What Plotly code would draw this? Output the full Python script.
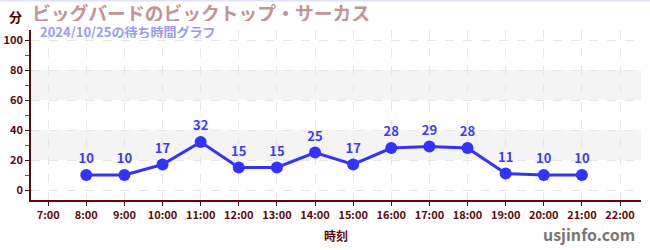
import plotly.graph_objects as go

hours = [8, 9, 10, 11, 12, 13, 14, 15, 16, 17, 18, 19, 20, 21]
waits = [10, 10, 17, 32, 15, 15, 25, 17, 28, 29, 28, 11, 10, 10]
tick_hours = list(range(7, 23))
tick_labels = [f"{h}:00" for h in tick_hours]
y_ticks = [0, 20, 40, 60, 80, 100]
bands = [(20, 40), (60, 80)]

title_text = "ビッグバードのビックトップ・サーカス"
subtitle_text = "2024/10/25の待ち時間グラフ"

FONT = "Noto Sans CJK JP"
AXC = "#5a0a0a"

fig = go.Figure()
fig.add_trace(go.Scatter(
    x=hours, y=waits, mode="lines+markers+text",
    text=[str(v) for v in waits], textposition="top center",
    textfont=dict(family=FONT, size=13, color="#3a3aff", weight="bold"),
    line=dict(color="#3333ff", width=3),
    marker=dict(color="#3333ff", size=12),
    cliponaxis=False, hoverinfo="skip", showlegend=False,
))

for a, b in bands:
    fig.add_shape(type="rect", xref="paper", yref="y", x0=0, x1=1, y0=a, y1=b,
                  fillcolor="#f4f4f4", line_width=0, layer="below")

fig.update_layout(
    width=650, height=250,
    margin=dict(l=31, r=9, t=30, b=50, autoexpand=False),
    paper_bgcolor="white", plot_bgcolor="white",
    font=dict(family=FONT, color=AXC),
    xaxis=dict(
        range=[6.55, 22.55], tickmode="array", tickvals=tick_hours, ticktext=tick_labels,
        showline=True, linecolor=AXC, linewidth=1.5, ticks="outside", ticklen=4,
        tickcolor=AXC, tickfont=dict(size=11, color=AXC, weight="bold"),
        showgrid=True, gridcolor="#e6e6e6", griddash="dash", gridwidth=1,
        zeroline=False, automargin=False,
        title=dict(text="時刻", font=dict(size=12, color=AXC, weight="bold"), standoff=12),
    ),
    yaxis=dict(
        range=[-6.67, 106.67], tickmode="array", tickvals=y_ticks,
        showline=True, linecolor=AXC, linewidth=1.5, ticks="outside", ticklen=4,
        tickcolor=AXC, tickfont=dict(size=11, color=AXC, weight="bold"),
        showgrid=True, gridcolor="#e6e6e6", griddash="dash", gridwidth=1,
        zeroline=False, automargin=False,
        minor=dict(tickvals=[10, 30, 50, 70, 90], ticks="outside", ticklen=4,
                   tickcolor="#dd2222", showgrid=False),
    ),
)

annots = [
    dict(text=title_text, x=31, y=13, size=18.8, color="#c49393", anchor="left", h=17),
    dict(text="分", x=15, y=16, size=13, color="#4d0000", anchor="center", h=None),
    dict(text=subtitle_text, x=39, y=32, size=13, color="#9a9af8", anchor="left", h=13),
    dict(text="usjinfo.com", x=636, y=234, size=16, color="#777777", anchor="right", h=None),
]
for a in annots:
    fig.add_annotation(
        text=a["text"], xref="paper", yref="paper",
        x=(a["x"] - 31) / 610, y=(200 - a["y"]) / 170,
        xanchor=a["anchor"], yanchor="middle", showarrow=False,
        height=a["h"], borderpad=0,
        font=dict(family=FONT, size=a["size"], color=a["color"], weight="bold"),
    )

fig.add_shape(type="line", xref="paper", yref="paper",
              x0=-31 / 610, x1=1 + 9 / 610, y0=(200 - 0.5) / 170, y1=(200 - 0.5) / 170,
              line=dict(color="#e2e2fa", width=2))

fig.write_html("out.html")
